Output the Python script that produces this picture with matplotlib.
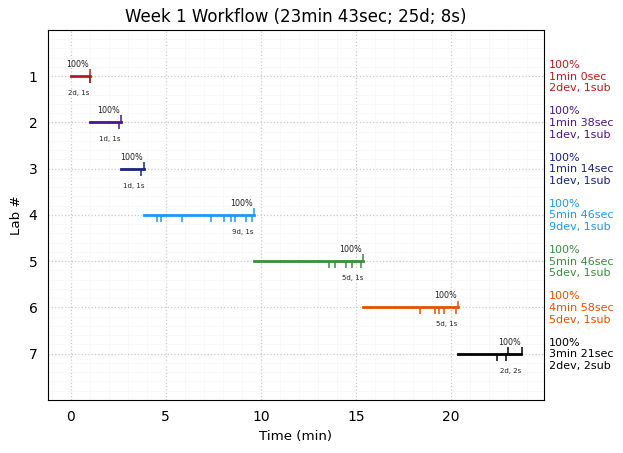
import matplotlib
matplotlib.use('Agg')
import matplotlib.pyplot as plt

# one entry per lab
labs = [1, 2, 3, 4, 5, 6, 7]
start_min = [0.0, 1.0, 2.63, 3.87, 9.63, 15.4, 20.37]
end_min = [1.0, 2.63, 3.87, 9.63, 15.4, 20.37, 23.72]
colores = ['#B71C1C', '#4A148C', '#1A237E', '#2196F3', '#388E3C', '#E65100', '#000000']

# submissions (ticks up) and dev runs (ticks down)
subs = [
    [1.0],
    [2.65],
    [3.86],
    [9.65],
    [15.39],
    [20.39],
    [23.02, 23.75],
]
devs = [
    [1.0, 1.0],
    [2.54],
    [3.70],
    [4.54, 4.75, 5.86, 7.39, 8.05, 8.44, 8.65, 9.23, 9.54],
    [13.6, 13.91, 14.49, 14.81, 15.28],
    [18.38, 19.17, 19.38, 19.65, 20.28],
    [22.44, 22.91],
]
porcentajes = ['100%'] * 7
conteos = ['2d, 1s', '1d, 1s', '1d, 1s', '9d, 1s', '5d, 1s', '5d, 1s', '2d, 2s']
duraciones = ['1min 0sec', '1min 38sec', '1min 14sec', '5min 46sec',
              '5min 46sec', '4min 58sec', '3min 21sec']
resumen = ['2dev, 1sub', '1dev, 1sub', '1dev, 1sub', '9dev, 1sub',
           '5dev, 1sub', '5dev, 1sub', '2dev, 2sub']

fig, ax = plt.subplots(figsize=(6.23, 4.53), dpi=100)
fig.subplots_adjust(left=0.077, right=0.873, top=0.934, bottom=0.117)

for i, lab in enumerate(labs):
    c = colores[i]
    ax.plot([start_min[i], end_min[i]], [lab, lab], color=c, lw=2,
            solid_capstyle='projecting', zorder=3)
    ax.vlines(subs[i], lab - 0.15, lab, color=c, lw=1.1, zorder=3)
    ax.vlines(devs[i], lab, lab + 0.15, color=c, lw=1.1, zorder=3)
    ax.annotate(porcentajes[i], xy=(end_min[i], lab), xytext=(-1, 7), textcoords='offset pixels',
                fontsize=5.8, ha='right', va='bottom', color='#222222')
    ax.annotate(conteos[i], xy=(end_min[i], lab), xytext=(0, -17), textcoords='offset pixels',
                fontsize=5, ha='right', va='center', color='#222222')
    texto = porcentajes[i] + '\n' + duraciones[i] + '\n' + resumen[i]
    ax.annotate(texto, xy=(1.0, lab), xycoords=('axes fraction', 'data'),
                xytext=(5, -0.5), textcoords='offset pixels', ha='left', va='center',
                fontsize=8, color=c, linespacing=1.2, annotation_clip=False)

ax.set_xlim(-1.2, 24.9)
ax.set_ylim(8, 0)
ax.set_xticks([0, 5, 10, 15, 20])
ax.set_yticks(labs)
ax.set_xticks(range(-1, 25), minor=True)
ax.set_yticks([y / 5 for y in range(0, 41)], minor=True)
ax.tick_params(which='both', length=0, pad=7.5)
ax.grid(which='major', color='#c8c8c8', linestyle=':', lw=0.9)
ax.grid(which='minor', color='#f7f7f7', linestyle='-', lw=0.5)
ax.set_axisbelow(True)

ax.set_title('Week 1 Workflow (23min 43sec; 25d; 8s)', fontsize=12)
ax.set_xlabel('Time (min)', fontsize=9.6)
ax.set_ylabel('Lab #', fontsize=9.6)

plt.savefig('out.png', dpi=100)
